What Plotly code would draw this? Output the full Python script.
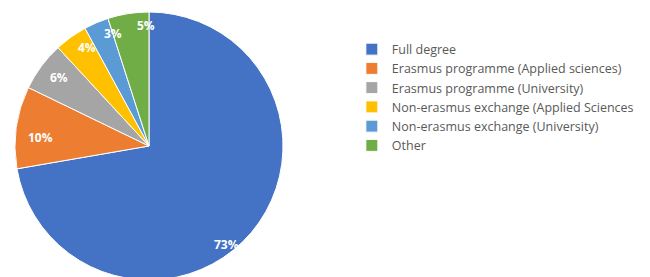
import math
import plotly.graph_objects as go

categories = [
    "Full degree",
    "Erasmus programme (Applied sciences)",
    "Erasmus programme (University)",
    "Non-erasmus exchange (Applied Sciences",
    "Non-erasmus exchange (University)",
    "Other",
]
values = [73, 10, 6, 4, 3, 5]
colors = ["#4472C4", "#ED7D31", "#A5A5A5", "#FFC000", "#5B9BD5", "#70AD47"]

W, H = 650, 277
ML, MR, MT, MB = 0, 0, 4, 5
dom_x = [7 / 650, 275 / 650]

fig = go.Figure(go.Pie(
    labels=categories,
    values=values,
    marker=dict(colors=colors, line=dict(color="white", width=1)),
    sort=False,
    direction="clockwise",
    rotation=0,
    textinfo="none",
    hoverinfo="label+percent",
    domain=dict(x=dom_x, y=[0, 1]),
))

# label placement derived from the data ("best fit" near the outer end of each slice)
pw, ph = W - ML - MR, H - MT - MB
R = min((dom_x[1] - dom_x[0]) * pw, ph) / 2
cx = ML + (dom_x[0] + dom_x[1]) / 2 * pw
cy = MT + ph / 2
total = sum(values)
cum = 0
for v in values:
    share = v / total
    if share < 0.5:
        mid_deg = (cum + v / 2) / total * 360
        t = min(max((mid_deg - 270) / 90, 0), 1)
        ang_deg = mid_deg - 5 + 14 * t
        rf = 0.80 + 0.11 * t
    else:
        ang_deg = (cum + v * 0.545) / total * 360
        rf = 0.94
    cum += v
    ang = math.radians(ang_deg)
    px = cx + math.sin(ang) * R * rf
    py = cy - math.cos(ang) * R * rf
    fig.add_annotation(
        x=(px - ML) / pw, y=(H - MB - py) / ph, xref="paper", yref="paper",
        xanchor="center", yanchor="middle",
        text=f"{v}%", showarrow=False,
        font=dict(family="Open Sans", size=12, color="white", weight="bold"),
    )

fig.update_layout(
    width=W, height=H,
    margin=dict(l=ML, r=MR, t=MT, b=MB),
    paper_bgcolor="white",
    plot_bgcolor="white",
    font=dict(family="Open Sans", color="#595959"),
    legend=dict(
        x=0.529, y=0.916, xanchor="left", yanchor="top",
        font=dict(family="Open Sans", size=12.5, color="#595959"),
        bgcolor="rgba(0,0,0,0)",
    ),
    showlegend=True,
)

fig.write_html("out.html")
